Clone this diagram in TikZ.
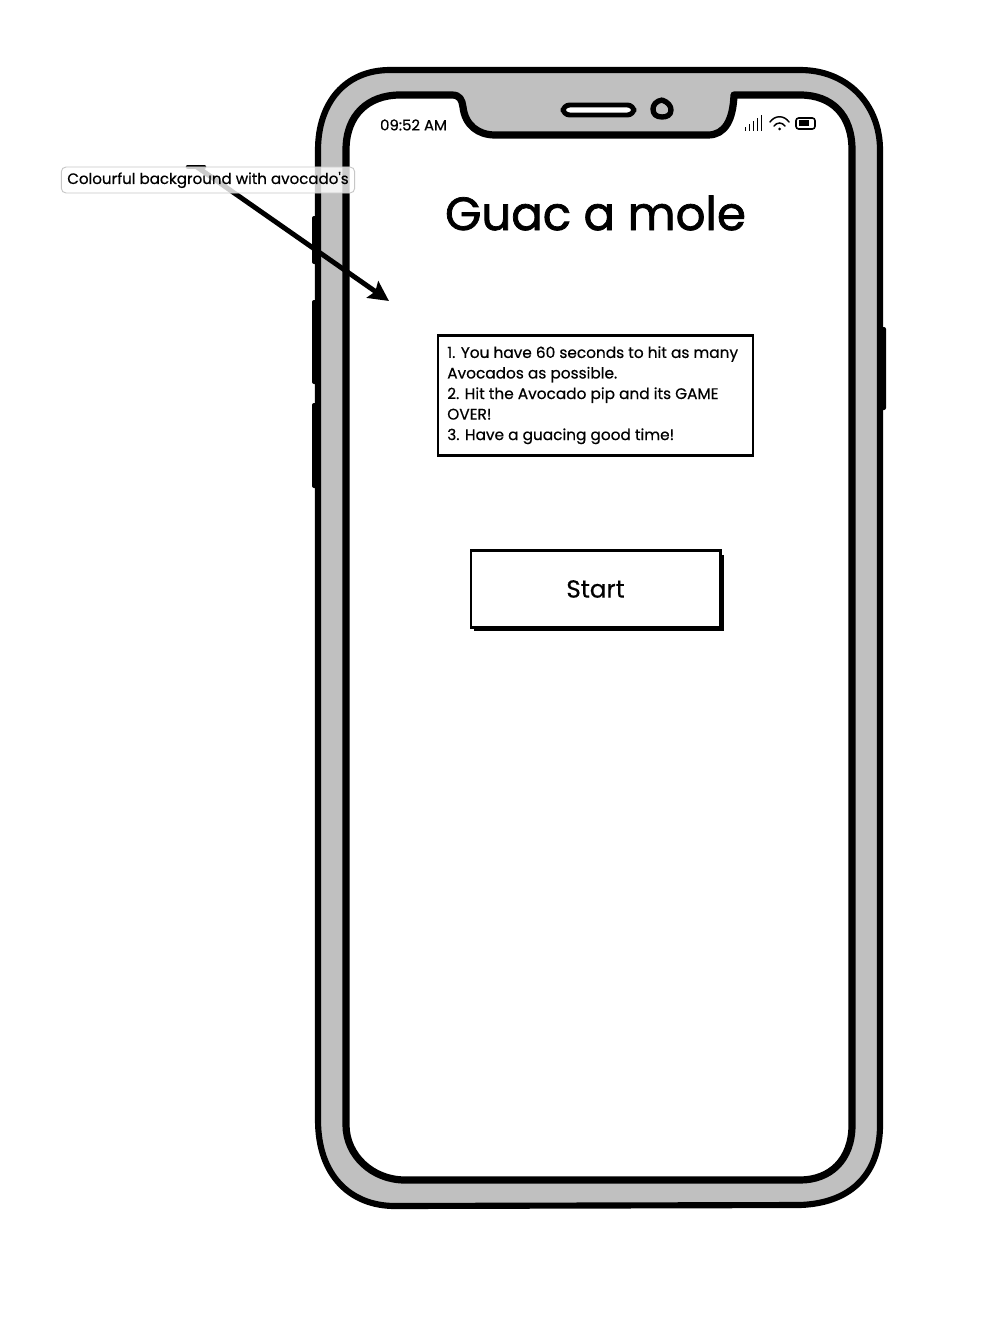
\documentclass[tikz,border=0pt]{standalone}
\usepackage{fontspec}
\setmainfont{Poppins}
\newfontfamily\heavyfont[FakeBold=1.6]{Poppins}
\newfontfamily\midfont[FakeBold=0.5]{Poppins}
\usetikzlibrary{arrows.meta}
\definecolor{casegray}{HTML}{C0C0C0}
\tikzset{
	phoneline/.style={draw=black, line width=4.6pt, line join=round},
	screenline/.style={draw=black, line width=5.4pt, line join=round},
	sidekey/.style={fill=black, rounded corners=1.5pt},
	rulesbox/.style={draw=black, fill=white, line width=1.9pt, minimum width=236pt, minimum height=90pt, inner sep=0},
	startbox/.style={draw=black, fill=white, line width=2pt, minimum width=187pt, minimum height=58pt, inner sep=0, font=\midfont\fontsize{18.5}{22}\selectfont},
	notelabel/.style={draw=black!22, fill=white, fill opacity=0.8, text opacity=1, line width=0.7pt, rounded corners=3.5pt, minimum width=220pt, minimum height=19.5pt, inner sep=0, font=\midfont\fontsize{11.3}{14}\selectfont},
	titletext/.style={inner sep=0, font=\heavyfont\fontsize{35}{42}\selectfont},
	clocktext/.style={inner sep=0, font=\midfont\fontsize{11.2}{13}\selectfont},
	pointer/.style={line width=3.7pt, -{Stealth[length=15pt, width=15pt, inset=2.5pt]}},
}
\begin{document}
\begin{tikzpicture}[x=0.75pt, y=-0.75pt]
	\useasboundingbox (0,0) rectangle (982,1334);
	\fill[sidekey] (312,216) rectangle (320,264);
	\fill[sidekey] (312,300) rectangle (320,384);
	\fill[sidekey] (312,403) rectangle (320,488);
	\fill[sidekey] (878,327) rectangle (886,410);
	\path[phoneline, fill=casegray] (390,70) -- (800,70)
		.. controls (848,70) and (880,105) .. (880,150)
		-- (880,1125) .. controls (880,1170) and (855,1203) .. (800,1205)
		-- (395,1206) .. controls (350,1206) and (318,1175) .. (318,1120)
		-- (318,150) .. controls (318,103) and (345,70) .. (390,70) -- cycle;
	\path[screenline, fill=white] (400,95) -- (452,95)
		.. controls (460,95) and (462,100) .. (463,107)
		.. controls (465,125) and (478,135) .. (495,135)
		-- (708,135) .. controls (725,135) and (733,120) .. (734,95)
		-- (800,95) .. controls (832,95) and (852,115) .. (852,150)
		-- (852,1125) .. controls (852,1160) and (830,1180) .. (800,1180)
		-- (405,1180) .. controls (372,1180) and (346,1155) .. (346,1125)
		-- (346,150) .. controls (346,115) and (368,95) .. (400,95) -- cycle;
	\draw[line width=3.7pt, fill=white, rounded corners=5pt] (563,105) rectangle (634,115);
	\draw[line width=4pt, line join=round] (662,100) .. controls (668,102) and (671,106) .. (671,110)
		.. controls (671,115) and (667,117) .. (662,117) .. controls (656,117) and (653,114) .. (653,109)
		.. controls (653,105) and (656,101) .. (662,100) -- cycle;
	\foreach \barx/\bartop in {745/127, 749/124, 753/121, 757/118, 761/115}
		\draw[line width=0.75pt] (\barx,131) -- (\barx,\bartop);
	\draw[line width=1.1pt, line cap=round] (770,122) .. controls (775,115) and (784,115) .. (789,122);
	\draw[line width=1.1pt, line cap=round] (774,126) .. controls (777,122) and (782,122) .. (785,126);
	\fill (779.5,129) circle (1.5);
	\draw[line width=1.2pt, rounded corners=2pt] (796,118) rectangle (815,129);
	\fill (799,120.5) rectangle (809,126.5);
	\node[clocktext] (clock) at (413.5,125) {09:52 AM};
	\node[titletext] (title) at (595.5,213) {Guac a mole};
	\node[rulesbox] (rules) at (595.5,395.5) {};
	\node[inner sep=0, anchor=north west, align=left, font=\midfont\fontsize{11.5}{15.4}\selectfont] (rulestext) at (447,346) {1. You have 60 seconds to hit as many\\Avocados as possible.\\2. Hit the Avocado pip and its GAME\\OVER!\\3. Have a guacing good time!};
	\fill (474,555) rectangle (724,631);
	\node[startbox] (start) at (595.5,589) {Start};
	\coordinate (pointerstart) at (197,167);
	\coordinate (pointerend) at (389,301);
	\draw[line width=3.4pt, line cap=round] (188,167) -- (204,167);
	\draw[pointer] (pointerstart) -- (pointerend);
	\node[notelabel] (note) at (208,180) {\raisebox{-1.5pt}{Colourful background with avocado's}};
\end{tikzpicture}
\end{document}
